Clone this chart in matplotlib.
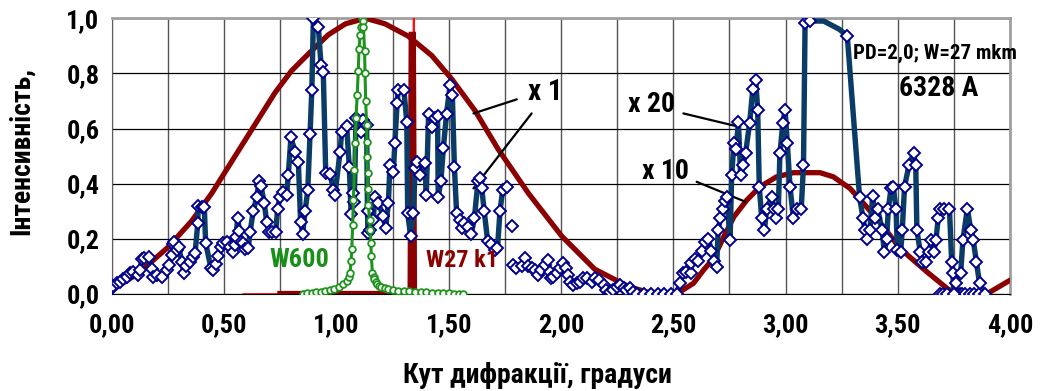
import numpy as np
import matplotlib
matplotlib.use("Agg")
import matplotlib.pyplot as plt
from matplotlib import font_manager
from matplotlib.font_manager import FontProperties

# --- data ------------------------------------------------------------------
# broad envelope (x1 on the left, x10 on the right)
env_x = [0.00, 0.117, 0.25, 0.355, 0.444, 0.548, 0.637, 0.726, 0.80, 0.88,
         0.963, 1.04, 1.13, 1.216, 1.32, 1.424, 1.513, 1.617, 1.72, 1.855,
         2.003, 2.15, 2.30, 2.40, 2.508, 2.53, 2.59, 2.635, 2.68, 2.725,
         2.77, 2.827, 2.886, 2.96, 3.035, 3.154, 3.213, 3.287, 3.36, 3.436,
         3.51, 3.63, 3.72, 3.76, 3.896, 4.00]
env_y = [0.015, 0.075, 0.17, 0.265, 0.365, 0.50, 0.615, 0.73, 0.81, 0.875,
         0.94, 0.98, 1.0, 0.98, 0.935, 0.865, 0.78, 0.665, 0.525, 0.365,
         0.21, 0.09, 0.027, 0.003, 0.0, 0.008, 0.039, 0.087, 0.13, 0.208,
         0.28, 0.34, 0.389, 0.425, 0.44, 0.44, 0.425, 0.383, 0.317, 0.244,
         0.165, 0.08, 0.02, 0.0, 0.0, 0.05]

# measured pattern, connected part left
blue1_x = [0.00, 0.006, 0.021, 0.036, 0.05, 0.065, 0.08, 0.095, 0.114, 0.125,
           0.132, 0.144, 0.165, 0.177, 0.184, 0.199, 0.224, 0.244, 0.255, 0.266,
           0.273, 0.278, 0.288, 0.298, 0.31, 0.321, 0.33, 0.347, 0.362, 0.37,
           0.382, 0.384, 0.40, 0.411, 0.417, 0.441, 0.451, 0.462, 0.473, 0.484,
           0.496, 0.511, 0.526, 0.538, 0.548, 0.552, 0.56, 0.567, 0.575, 0.585,
           0.592, 0.607, 0.615, 0.629, 0.645, 0.655, 0.664, 0.678, 0.689, 0.70,
           0.711, 0.729, 0.738, 0.748, 0.763, 0.778, 0.785, 0.797, 0.815, 0.83,
           0.84, 0.849, 0.86, 0.872, 0.882, 0.89, 0.897, 0.919, 0.931, 0.941,
           0.952, 0.971, 0.986, 0.993, 1.016, 1.023, 1.045, 1.057, 1.065, 1.075,
           1.079, 1.087, 1.109, 1.119, 1.134, 1.138, 1.14, 1.15, 1.164, 1.17,
           1.186, 1.208, 1.219, 1.231, 1.238, 1.253, 1.26, 1.27, 1.275, 1.30,
           1.313, 1.317, 1.33, 1.342, 1.35, 1.36, 1.37, 1.394, 1.40, 1.41,
           1.424, 1.439, 1.45, 1.453, 1.465, 1.476, 1.49, 1.506, 1.516, 1.525,
           1.535, 1.55, 1.56, 1.57, 1.587, 1.60, 1.614, 1.63, 1.64, 1.647,
           1.658, 1.673, 1.688, 1.706, 1.717, 1.728, 1.74, 1.758]
blue1_y = [0.02, 0.03, 0.04, 0.045, 0.053, 0.063, 0.075, 0.08, 0.07, 0.087,
           0.126, 0.13, 0.133, 0.09, 0.063, 0.07, 0.063, 0.087, 0.105, 0.14,
           0.18, 0.19, 0.16, 0.17, 0.117, 0.077, 0.10, 0.117, 0.135, 0.148,
           0.256, 0.32, 0.317, 0.317, 0.186, 0.093, 0.087, 0.11, 0.138, 0.17,
           0.186, 0.19, 0.17, 0.153, 0.178, 0.208, 0.275, 0.23, 0.19, 0.184,
           0.162, 0.166, 0.226, 0.30, 0.353, 0.41, 0.39, 0.33, 0.262, 0.226,
           0.226, 0.226, 0.31, 0.353, 0.371, 0.36, 0.43, 0.568, 0.516, 0.48,
           0.262, 0.218, 0.30, 0.377, 0.58, 0.74, 1.0, 0.97, 0.83, 0.806,
           0.44, 0.437, 0.377, 0.36, 0.516, 0.589, 0.61, 0.46, 0.29, 0.367,
           0.335, 0.637, 0.589, 0.63, 0.613, 0.30, 0.22, 0.232, 0.268, 0.353,
           0.33, 0.283, 0.238, 0.33, 0.468, 0.444, 0.547, 0.694, 0.74, 0.74,
           0.625, 0.293, 0.21, 0.293, 0.456, 0.48, 0.43, 0.474, 0.36, 0.653,
           0.605, 0.64, 0.645, 0.353, 0.41, 0.53, 0.654, 0.758, 0.72, 0.46,
           0.293, 0.268, 0.238, 0.259, 0.244, 0.218, 0.274, 0.41, 0.42, 0.383,
           0.30, 0.193, 0.18, 0.16, 0.166, 0.30, 0.377, 0.387]

# loose points (markers only)
loose_x = [1.78, 1.788, 1.80, 1.825, 1.84, 1.854, 1.87, 1.884, 1.896, 1.91,
           1.93, 1.94, 1.95, 1.957, 1.966, 1.98, 1.996, 2.01, 2.02, 2.03,
           2.04, 2.055, 2.07, 2.085, 2.10, 2.114, 2.137, 2.15, 2.17, 2.19,
           2.20, 2.22, 2.233, 2.25, 2.263, 2.28, 2.29, 2.307, 2.32,
           3.69, 3.70, 3.72, 3.765, 3.775, 3.785, 3.80, 3.82, 3.84, 3.86]
loose_y = [0.247, 0.105, 0.093, 0.10, 0.13, 0.10, 0.093, 0.087, 0.069, 0.087,
           0.105, 0.123, 0.081, 0.057, 0.063, 0.075, 0.093, 0.111, 0.093, 0.069,
           0.045, 0.033, 0.039, 0.045, 0.057, 0.057, 0.045, 0.057, 0.051, 0.033,
           0.015, 0.008, 0.015, 0.027, 0.033, 0.021, 0.015, 0.021, 0.008,
           0.0, 0.0, 0.0, 0.0, 0.0, 0.0, 0.0, 0.0, 0.0, 0.0]

# measured pattern, connected part right (x20)
blue2_x = [2.34, 2.37, 2.40, 2.43, 2.46, 2.49, 2.515, 2.53, 2.542, 2.557,
           2.578, 2.58, 2.597, 2.61, 2.627, 2.64, 2.656, 2.67, 2.68, 2.693,
           2.70, 2.71, 2.72, 2.73, 2.738, 2.753, 2.76, 2.77, 2.78, 2.79,
           2.80, 2.81, 2.822, 2.84, 2.854, 2.867, 2.876, 2.883, 2.894, 2.906,
           2.916, 2.938, 2.949, 2.958, 2.968, 2.975, 2.988, 2.998, 3.008, 3.02,
           3.035, 3.053, 3.07, 3.08, 3.087, 3.11, 3.17, 3.24, 3.275, 3.33,
           3.345, 3.354, 3.364, 3.376, 3.388, 3.40, 3.41, 3.43, 3.44, 3.45,
           3.458, 3.47, 3.48, 3.492, 3.498, 3.513, 3.52, 3.53, 3.55, 3.57,
           3.58, 3.585, 3.60, 3.61, 3.625, 3.64, 3.65, 3.66, 3.67, 3.68,
           3.69, 3.705, 3.73, 3.74, 3.745, 3.75, 3.76, 3.78, 3.79, 3.81,
           3.825, 3.836, 3.85, 3.864, 3.89]
blue2_y = [0.0, 0.0, 0.0, 0.0, 0.0, 0.0, 0.0, 0.04, 0.075, 0.078,
           0.075, 0.111, 0.126, 0.12, 0.157, 0.19, 0.198, 0.157, 0.12, 0.097,
           0.232, 0.275, 0.31, 0.338, 0.353, 0.196, 0.43, 0.547, 0.525, 0.625,
           0.43, 0.468, 0.51, 0.62, 0.742, 0.778, 0.667, 0.389, 0.275, 0.232,
           0.31, 0.35, 0.31, 0.275, 0.31, 0.51, 0.62, 0.667, 0.547, 0.389,
           0.275, 0.307, 0.31, 0.468, 0.982, 0.99, 0.99, 0.96, 0.936, 0.35,
           0.275, 0.232, 0.198, 0.233, 0.355, 0.275, 0.31, 0.232, 0.153, 0.198,
           0.31, 0.385, 0.389, 0.31, 0.16, 0.153, 0.232, 0.389, 0.468, 0.51,
           0.468, 0.232, 0.153, 0.117, 0.117, 0.153, 0.196, 0.153, 0.196, 0.275,
           0.31, 0.31, 0.31, 0.117, 0.075, 0.0, 0.039, 0.075, 0.196, 0.31,
           0.232, 0.196, 0.117, 0.039, 0.0]
blue2_nomark = [3.17, 3.24]

# W600 reference peak
w600_x = [0.85, 0.87, 0.89, 0.91, 0.93, 0.95, 0.97, 0.99, 1.01, 1.03,
          1.045, 1.055, 1.06, 1.065, 1.068, 1.072, 1.075, 1.08, 1.083, 1.087,
          1.092, 1.097, 1.10, 1.105, 1.109, 1.112, 1.117, 1.12, 1.125, 1.127,
          1.13, 1.134, 1.135, 1.136, 1.138, 1.14, 1.142, 1.147, 1.15, 1.153,
          1.155, 1.16, 1.165, 1.168, 1.175, 1.18, 1.19, 1.20, 1.215, 1.23,
          1.25, 1.275, 1.30, 1.325, 1.35, 1.375, 1.40, 1.425, 1.45, 1.475,
          1.50, 1.525, 1.545, 1.565]
w600_y = [0.0, 0.003, 0.005, 0.006, 0.008, 0.01, 0.013, 0.018, 0.025, 0.036,
          0.046, 0.06, 0.075, 0.12, 0.165, 0.25, 0.34, 0.45, 0.547, 0.64,
          0.72, 0.81, 0.887, 0.94, 0.97, 1.0, 0.99, 0.97, 0.88, 0.80,
          0.70, 0.613, 0.55, 0.498, 0.438, 0.38, 0.323, 0.27, 0.232, 0.185,
          0.138, 0.075, 0.06, 0.053, 0.042, 0.036, 0.03, 0.027, 0.022, 0.017,
          0.015, 0.012, 0.011, 0.01, 0.008, 0.007, 0.006, 0.005, 0.004, 0.003,
          0.002, 0.001, 0.0, 0.0]

# W27 k1 slit
w27_x = [0.75, 1.00, 1.25, 1.33, 1.335, 1.34, 1.345, 1.40, 1.45]
w27_y = [0.0, 0.0, 0.0, 0.0, 0.94, 0.94, 0.0, 0.0, 0.0]
w27t_x = [0.585, 1.00, 1.341, 1.343, 1.345, 1.347, 1.40]
w27t_y = [0.0, 0.0, 0.0, 1.0, 1.0, 0.0, 0.0]

xtick_vals = [0.0, 0.5, 1.0, 1.5, 2.0, 2.5, 3.0, 3.5, 4.0]
xtick_labels = ["0,00", "0,50", "1,00", "1,50", "2,00", "2,50", "3,00", "3,50", "4,00"]
ytick_vals = [0.0, 0.2, 0.4, 0.6, 0.8, 1.0]
ytick_labels = ["0,0", "0,2", "0,4", "0,6", "0,8", "1,0"]


# --- fonts: a bold narrow face if one is installed ----------------------------
def is_bold(w):
    if isinstance(w, str):
        return w in ("bold", "semibold", "demibold", "heavy", "extra bold")
    return w >= 600


def is_cond(s):
    if isinstance(s, str):
        return "condensed" in s
    return s < 100


def pick_narrow():
    pref = ["Liberation Sans Narrow", "Roboto Condensed", "Open Sans Condensed",
            "Noto Sans Condensed", "Noto Sans", "DejaVu Sans Condensed", "DejaVu Sans"]
    for name in pref:
        for f in font_manager.fontManager.ttflist:
            if f.name != name or f.style != "normal" or not is_bold(f.weight):
                continue
            if "Narrow" in name or "Condensed" in name or is_cond(f.stretch):
                return f.fname
    return None


narrow_file = pick_narrow()


def fp(size_narrow, size_plain):
    if narrow_file:
        return FontProperties(fname=narrow_file, size=size_narrow)
    return FontProperties(family=["Liberation Sans", "DejaVu Sans"], weight="bold", size=size_plain)


RED = "#8B0000"
NAVY = "#0B3C68"
GREEN = "#1E931E"

fig = plt.figure(figsize=(10.4, 3.91), dpi=100)
ax = fig.add_axes([0.1077, 0.2481, 0.8635, 0.7051])

ax.plot(env_x, env_y, color=RED, lw=3.8, solid_capstyle="round", zorder=3)
ax.plot(w27t_x, w27t_y, color="#FF1010", lw=1.3, zorder=3)
ax.plot(w27_x, w27_y, color=RED, lw=4.5, solid_joinstyle="miter", zorder=3.5)

mk = dict(marker="D", markersize=5.8, markerfacecolor="white",
          markeredgecolor="#00008B", markeredgewidth=1.4)
ax.plot(blue1_x, blue1_y, color=NAVY, lw=3.9, zorder=4, **mk)
ax.plot(loose_x, loose_y, ls="none", zorder=4, **mk)
show = [i for i, v in enumerate(blue2_x) if v not in blue2_nomark]
ax.plot(blue2_x, blue2_y, color=NAVY, lw=3.9, zorder=4, markevery=show, **mk)

ax.plot(w600_x, w600_y, color=GREEN, lw=2.2, marker="o", markersize=4.8,
        markerfacecolor="white", markeredgecolor=GREEN, markeredgewidth=1.3, zorder=5)

ax.set_xlim(0, 4)
ax.set_ylim(0, 1)
ax.set_xticks(xtick_vals)
ax.set_xticklabels(xtick_labels)
ax.set_xticks(np.arange(0, 4.01, 0.25), minor=True)
ax.set_yticks(ytick_vals)
ax.set_yticklabels(ytick_labels)
ax.tick_params(axis="x", which="both", length=0, pad=14)
ax.tick_params(axis="y", length=0, pad=9)
for lab in ax.get_xticklabels() + ax.get_yticklabels():
    lab.set_fontproperties(fp(19, 15))
ax.grid(axis="x", which="both", color="#555555", lw=1.0, zorder=1)
ax.grid(axis="y", which="major", color="black", lw=0.9, zorder=1)
for side in ["top", "right"]:
    ax.spines[side].set_color("#A0A0A0")
    ax.spines[side].set_linewidth(2)
ax.spines["left"].set_color("#606060")
ax.spines["bottom"].set_color("black")

# leader lines
line = dict(arrowstyle="-", color="black", lw=1.6, shrinkA=0, shrinkB=0)
ax.annotate("", xy=(1.61, 0.655), xytext=(1.803, 0.706), arrowprops=line)
ax.annotate("", xy=(1.61, 0.383), xytext=(1.869, 0.655), arrowprops=line)
ax.annotate("", xy=(2.79, 0.607), xytext=(2.545, 0.655), arrowprops=line)
ax.annotate("", xy=(2.82, 0.335), xytext=(2.604, 0.407), arrowprops=line)

tx = dict(ha="center", va="center", zorder=6)
ax.text(1.929, 0.734, "x 1", fontproperties=fp(21, 18), **tx)
ax.text(2.403, 0.686, "x 20", fontproperties=fp(20, 17), **tx)
ax.text(2.465, 0.444, "x 10", fontproperties=fp(20, 17), **tx)
ax.text(3.666, 0.872, "PD=2,0; W=27 mkm", fontproperties=fp(15, 12.5), **tx)
ax.text(3.684, 0.744, "6328 A", fontproperties=fp(20, 17), **tx)
ax.text(0.833, 0.122, "W600", color="#189018", fontproperties=fp(19, 17), **tx)
ax.text(1.561, 0.123, "W27 k1", color=RED, fontproperties=fp(17.5, 15), **tx)

fig.text(0.517, 0.040, "Кут дифракції, градуси", ha="center", va="center",
         fontproperties=fp(20, 17))
fig.text(0.021, 0.615, "Інтенсивність,", ha="center", va="center", rotation=90,
         fontproperties=fp(20, 17))

fig.savefig("out.png", dpi=100)
